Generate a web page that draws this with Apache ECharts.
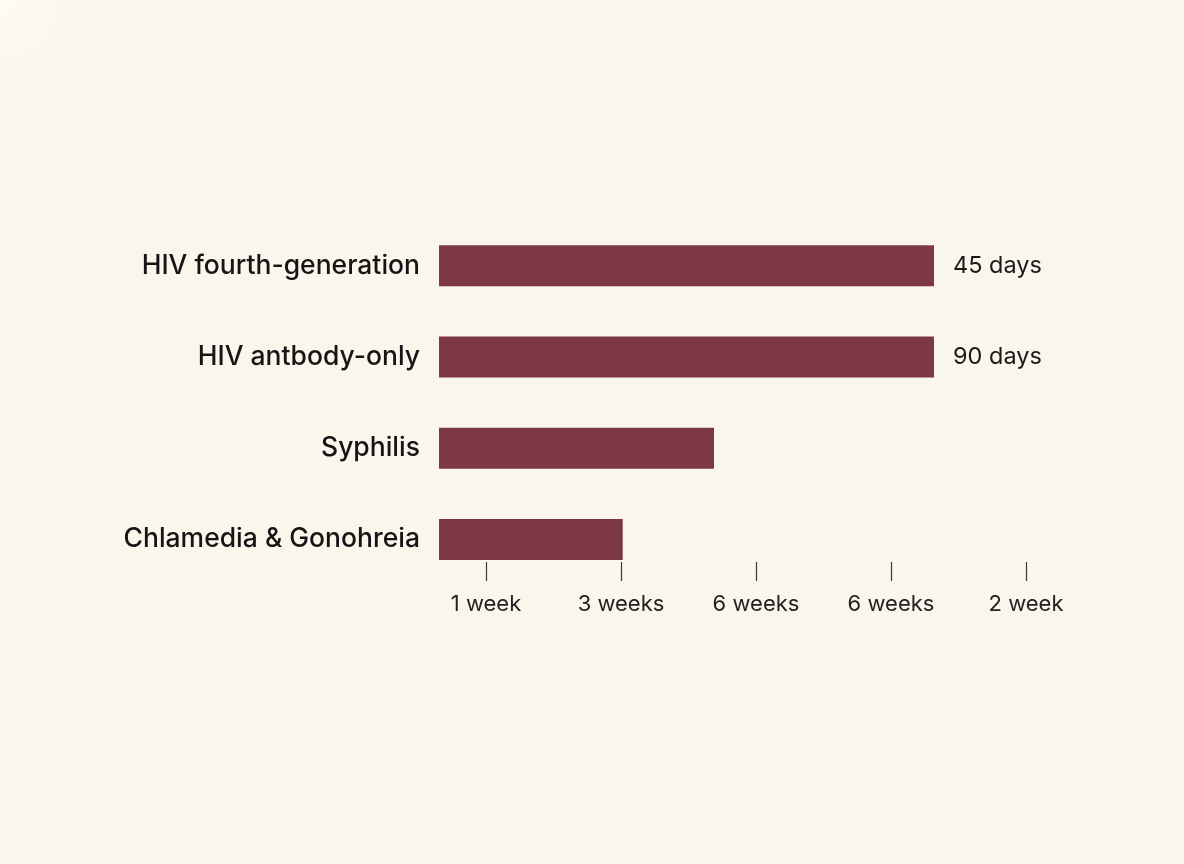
<!DOCTYPE html>
<html>
<head>
<meta charset="utf-8">
<title>Window periods</title>
<script src="https://cdn.jsdelivr.net/npm/echarts@6/dist/echarts.min.js"></script>
<style>
  html, body { margin: 0; padding: 0; background: #FBF6EC; }
  #main { width: 1184px; height: 864px; }
</style>
</head>
<body>
<div id="main"></div>
<script>
// tests, top to bottom
var tests = ["HIV fourth-generation", "HIV antbody-only", "Syphilis", "Chlamedia & Gonohreia"];
// bar lengths (days)
var windowDays = [45, 45, 25, 16.7];
// text printed at bar ends
var barLabels = ["45 days", "90 days", "", ""];
// tick labels under the bars
var tickLabels = ["1 week", "3 weeks", "6 weeks", "6 weeks", "2 week"];

var FONT = "Inter, 'Liberation Sans', sans-serif";

var myChart = echarts.init(document.getElementById("main"));

var option = {
    backgroundColor: new echarts.graphic.RadialGradient(0, 0, 0.1, [
        {offset: 0, color: "#FEFBF4"},
        {offset: 1, color: "#FBF6EC"}
    ]),
    animation: false,
    grid: [
        {left: 439, top: 220, width: 550, height: 365, containLabel: false},
        {left: 418.5, top: 540, width: 675, height: 22, containLabel: false}
    ],
    xAxis: [
        {
            type: "value",
            gridIndex: 0,
            min: 0,
            max: 50,
            show: false
        },
        {
            type: "category",
            gridIndex: 1,
            data: tickLabels,
            boundaryGap: true,
            axisLine: {show: false},
            axisTick: {
                show: true,
                alignWithLabel: true,
                length: 19,
                lineStyle: {color: "#3a3a3a", width: 1.2}
            },
            axisLabel: {
                interval: 0,
                margin: 31,
                color: "#222222",
                fontSize: 22,
                fontFamily: FONT
            },
            splitLine: {show: false}
        }
    ],
    yAxis: [
        {
            type: "category",
            gridIndex: 0,
            data: tests,
            inverse: true,
            axisLine: {show: false},
            axisTick: {show: false},
            axisLabel: {
                margin: 19,
                color: "#151515",
                fontSize: 26.5,
                fontWeight: 500,
                fontFamily: FONT
            }
        },
        {
            type: "value",
            gridIndex: 1,
            show: false
        }
    ],
    series: [{
        type: "bar",
        xAxisIndex: 0,
        yAxisIndex: 0,
        data: windowDays,
        barWidth: 41,
        itemStyle: {color: "#7C3944"},
        label: {
            show: true,
            position: "right",
            distance: 19,
            color: "#1a1a1a",
            fontSize: 23.5,
            fontFamily: FONT,
            formatter: function (p) { return barLabels[p.dataIndex]; }
        }
    }]
};

myChart.setOption(option);
</script>
</body>
</html>
